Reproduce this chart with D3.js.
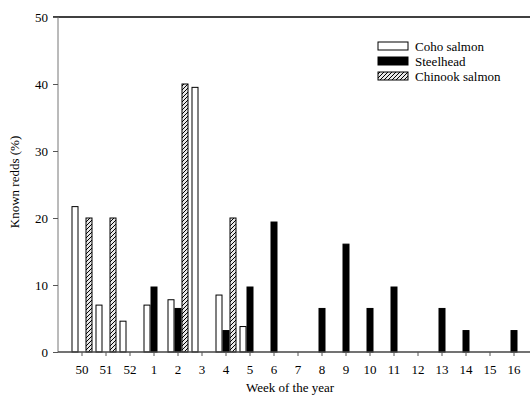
<!DOCTYPE html>
<html><head><meta charset="utf-8">
<script src="https://cdn.jsdelivr.net/npm/d3@7"></script>
<style>body{margin:0;background:#fff}svg{display:block}text{font-family:"Liberation Serif","Times New Roman",serif !important;fill:#000}</style>
</head><body><svg id="c" width="530" height="401"></svg>
<script>
const weeks = ["50","51","52","1","2","3","4","5","6","7","8","9","10","11","12","13","14","15","16"];
const seriesNames = ["Coho salmon","Steelhead","Chinook salmon"];
const coho      = [21.7, 7.0, 4.6, 7.0, 7.8, 39.5, 8.5, 3.8, 0, 0, 0, 0, 0, 0, 0, 0, 0, 0, 0];
const steelhead = [0, 0, 0, 9.7, 6.5, 0, 3.2, 9.7, 19.4, 0, 6.5, 16.1, 6.5, 9.7, 0, 6.5, 3.2, 0, 3.2];
const chinook   = [20, 20, 0, 0, 40, 0, 20, 0, 0, 0, 0, 0, 0, 0, 0, 0, 0, 0, 0];
const yTicks = [0, 10, 20, 30, 40, 50];

(function(){
const svg = d3.select("#c");
const defs = svg.append("defs");
const pat = defs.append("pattern").attr("id","hatch").attr("patternUnits","userSpaceOnUse")
  .attr("width",4).attr("height",4);
pat.append("rect").attr("width",4).attr("height",4).attr("fill","#e8e8e8");
pat.append("path").attr("d","M-1,1 l2,-2 M0,4 l4,-4 M3,5 l2,-2").attr("stroke","#000").attr("stroke-width",1);

const mLeft = 58, mRight = 530, mTop = 17, mBottom = 352;
const x = d3.scaleBand().domain(weeks).range([70, 526]).paddingInner(0).paddingOuter(0);
const xs = d3.scaleBand().domain(seriesNames).range([0, 21]);
const y = d3.scaleLinear().domain([0, 50]).range([mBottom, mTop]);

const data = [coho, steelhead, chinook];
const fills = ["#fff", "#000", "url(#hatch)"];
const serif = "'Liberation Serif','Times New Roman',serif";

svg.append("line").attr("x1", mLeft-5).attr("x2", mRight).attr("y1", y(50)).attr("y2", y(50))
  .attr("stroke","#000").attr("stroke-width",1.3);

data.forEach((vals, si) => {
  svg.append("g").selectAll("rect").data(vals.map((v,i)=>({w:weeks[i],v})).filter(d=>d.v>0))
    .join("rect")
    .attr("x", d => x(d.w) + x.bandwidth()/2 - 10.5 + xs(seriesNames[si]) + 0.5)
    .attr("width", xs.bandwidth() - 1)
    .attr("y", d => y(d.v))
    .attr("height", d => y(0) - y(d.v))
    .attr("fill", fills[si]).attr("stroke", "#000").attr("stroke-width", 1);
});

const yAxis = svg.append("g").attr("transform", `translate(${mLeft},0)`)
  .call(d3.axisLeft(y).tickValues(yTicks).tickSize(5).tickPadding(5))
  .attr("font-family", serif);
yAxis.select(".domain").attr("stroke","#777").attr("d", `M0,${mTop}V${mBottom}`);
yAxis.selectAll(".tick line").attr("stroke","#555");
yAxis.selectAll("text").attr("font-size", 13).style("font-family", serif).attr("fill","#000");

const xAxis = svg.append("g").attr("transform", `translate(0,${mBottom})`)
  .call(d3.axisBottom(x).tickSize(4).tickPadding(9))
  .attr("font-family", serif);
xAxis.select(".domain").attr("d", `M${mLeft},0H${mRight}`).attr("stroke","#444").attr("stroke-width",1.3);
xAxis.selectAll(".tick line").attr("stroke","#555");
xAxis.selectAll("text").attr("font-size", 13).style("font-family", serif).attr("fill","#000");

svg.append("text").attr("x", 290).attr("y", 392).attr("text-anchor","middle").attr("font-size", 13)
  .text("Week of the year");
svg.append("text").attr("transform","translate(19,182) rotate(-90)").attr("text-anchor","middle")
  .attr("font-size", 13).text("Known redds (%)");

const lg = svg.append("g").attr("transform","translate(378,42)");
seriesNames.forEach((n, i) => {
  lg.append("rect").attr("x",0).attr("y", i*15).attr("width",30).attr("height",8)
    .attr("fill", fills[i]).attr("stroke","#000").attr("stroke-width",1);
  lg.append("text").attr("x",37).attr("y", i*15 + 8.5).attr("font-size", 13).text(n);
});
})();
</script></body></html>
